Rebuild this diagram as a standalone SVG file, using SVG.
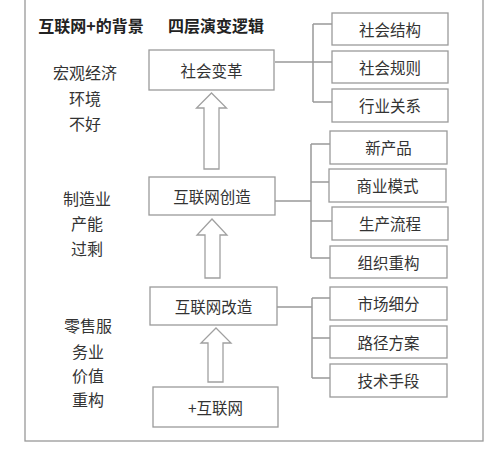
<svg xmlns="http://www.w3.org/2000/svg" width="502" height="450" viewBox="0 0 502 450">
<style>
text{font-family:"Noto Sans CJK SC","Microsoft YaHei",sans-serif;fill:#333;text-anchor:middle;dominant-baseline:central}
.t{font-size:16px;font-weight:bold;fill:#222}
.l{font-size:16px}
.b{font-size:15.5px}
.box{fill:#fff;stroke:#9a9a9a;stroke-width:1.3}
.c{fill:none;stroke:#999;stroke-width:1.5}
.ar{fill:#fff;stroke:#a0a0a0;stroke-width:1.3}
</style>
<rect width="502" height="450" fill="#fff"/>
<rect x="25" y="-5" width="458" height="446" fill="none" stroke="#999" stroke-width="1.3"/>
<g id="titles">
<text class="t" x="91" y="25">互联网+的背景</text>
<text class="t" x="216" y="25">四层演变逻辑</text>
</g>
<g id="background">
<text class="l" x="85" y="72">宏观经济</text>
<text class="l" x="85" y="98">环境</text>
<text class="l" x="85" y="123">不好</text>
<text class="l" x="87" y="198">制造业</text>
<text class="l" x="87" y="223">产能</text>
<text class="l" x="87" y="248">过剩</text>
<text class="l" x="88" y="325">零售服</text>
<text class="l" x="88" y="351">务业</text>
<text class="l" x="88" y="375">价值</text>
<text class="l" x="88" y="399">重构</text>
</g>
<g id="connectors">
<path class="c" d="M275 62H313M313 24V102M313 24H332M313 62H333M313 102H332"/>
<path class="c" d="M275 201H311M311 144V258M311 144H330M311 182H329M311 221H332M311 258H330"/>
<path class="c" d="M277 307H312M312 298V378M312 298H330M312 338H330M312 378H330"/>
<path class="ar" d="M211.5 93L226.5 108H219V169H204V108H196.5Z"/>
<path class="ar" d="M212 219L227 235H220V278H205V235H197Z"/>
<path class="ar" d="M216 328L231 343H223V382H208V343H201Z"/>
</g>
<g id="n-shehuibiange"><rect class="box" x="149" y="50" width="125" height="40"/><text class="b" x="211.5" y="70">社会变革</text></g>
<g id="n-chuangzao"><rect class="box" x="149" y="177" width="126" height="38"/><text class="b" x="212" y="196">互联网创造</text></g>
<g id="n-gaizao"><rect class="box" x="150" y="287" width="127" height="38"/><text class="b" x="213.5" y="306">互联网改造</text></g>
<g id="n-plus"><rect class="box" x="153" y="387" width="125" height="40"/><text class="b" x="215.5" y="407">+互联网</text></g>
<g id="n-jiegou"><rect class="box" x="332" y="13" width="116" height="32"/><text class="b" x="390" y="29">社会结构</text></g>
<g id="n-guize"><rect class="box" x="332" y="51" width="116" height="32"/><text class="b" x="390" y="67">社会规则</text></g>
<g id="n-guanxi"><rect class="box" x="332" y="89" width="116" height="33"/><text class="b" x="390" y="105">行业关系</text></g>
<g id="n-xinchanpin"><rect class="box" x="330" y="131" width="117" height="33"/><text class="b" x="388.5" y="147">新产品</text></g>
<g id="n-moshi"><rect class="box" x="329" y="169" width="117" height="33"/><text class="b" x="387.5" y="185">商业模式</text></g>
<g id="n-liucheng"><rect class="box" x="332" y="207" width="116" height="33"/><text class="b" x="390" y="223">生产流程</text></g>
<g id="n-zuzhi"><rect class="box" x="330" y="246" width="117" height="32"/><text class="b" x="388.5" y="262">组织重构</text></g>
<g id="n-xifen"><rect class="box" x="330" y="287" width="117" height="33"/><text class="b" x="388.5" y="303">市场细分</text></g>
<g id="n-lujing"><rect class="box" x="330" y="326" width="117" height="32"/><text class="b" x="388.5" y="342">路径方案</text></g>
<g id="n-jishu"><rect class="box" x="330" y="364" width="117" height="33"/><text class="b" x="388.5" y="380">技术手段</text></g>
</svg>
